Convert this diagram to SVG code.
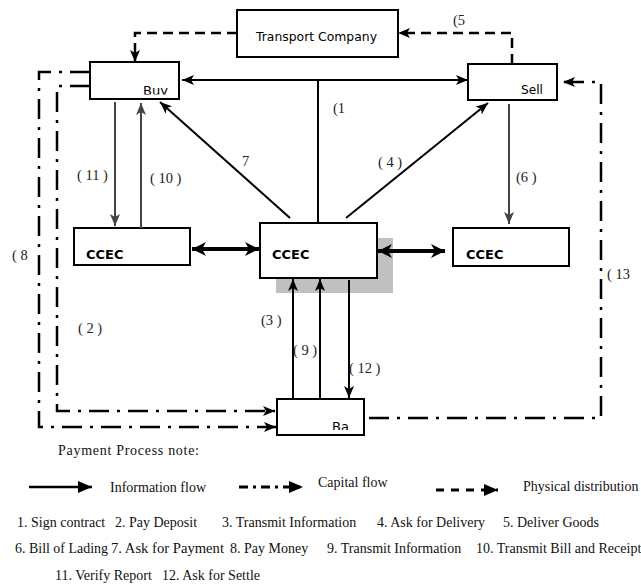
<svg xmlns="http://www.w3.org/2000/svg" width="641" height="585" viewBox="0 0 641 585">
<style>
.box{fill:#fff;stroke:#000;stroke-width:2}
.bt{font-family:"DejaVu Sans","Liberation Sans",sans-serif;font-size:13px;fill:#000}
.bb{font-family:"DejaVu Sans","Liberation Sans",sans-serif;font-size:13px;font-weight:bold;fill:#000}
.lb{font-family:"Liberation Serif","Times New Roman",serif;font-size:14.5px;fill:#222}
.lg{font-family:"Liberation Serif","Times New Roman",serif;font-size:14px;fill:#111}
.sol{fill:none;stroke:#000;stroke-width:2}
.gry{fill:none;stroke:#444;stroke-width:2}
.thk{fill:none;stroke:#000;stroke-width:4}
.dd{fill:none;stroke:#000;stroke-width:2.5;stroke-dasharray:20 8 3 8}
.ds{fill:none;stroke:#000;stroke-width:2.5;stroke-dasharray:10 6}
</style>
<defs>
<marker id="a" viewBox="0 0 12 10" markerWidth="12" markerHeight="10" refX="12" refY="5" orient="auto-start-reverse" markerUnits="userSpaceOnUse"><path d="M0,0 L12,5 L0,10 L3,5 z" fill="#000"/></marker>
<marker id="ag" viewBox="0 0 12 10" markerWidth="12" markerHeight="10" refX="12" refY="5" orient="auto-start-reverse" markerUnits="userSpaceOnUse"><path d="M0,0 L12,5 L0,10 L3,5 z" fill="#444"/></marker>
<marker id="at" viewBox="0 0 14 14" markerWidth="14" markerHeight="14" refX="14" refY="7" orient="auto-start-reverse" markerUnits="userSpaceOnUse"><path d="M0,0 L14,7 L0,14 L4,7 z" fill="#000"/></marker>
<marker id="tri" viewBox="0 0 14 12" markerWidth="14" markerHeight="12" refX="14" refY="6" orient="auto" markerUnits="userSpaceOnUse"><path d="M0,0 L14,6 L0,12 z" fill="#000"/></marker>
<clipPath id="cBuy"><rect x="90" y="62" width="89" height="32.5"/></clipPath>
<clipPath id="cSell"><rect x="468" y="64" width="89" height="30"/></clipPath>
<clipPath id="cBa"><rect x="277" y="399" width="87" height="31"/></clipPath>
</defs>

<g id="transport"><rect class="box" x="237" y="10" width="161" height="47"/><text class="bt" x="256" y="41" font-size="14" textLength="121" lengthAdjust="spacingAndGlyphs">Transport Company</text></g>
<g id="buy"><rect class="box" x="90" y="62" width="89" height="37"/><text class="bt" x="143" y="95" clip-path="url(#cBuy)">Buy</text></g>
<g id="sell"><rect class="box" x="468" y="64" width="89" height="36"/><text class="bt" x="521" y="94" clip-path="url(#cSell)" textLength="22" lengthAdjust="spacingAndGlyphs">Sell</text></g>
<g id="ccec-left"><rect class="box" x="74" y="228" width="116" height="37"/><text class="bb" x="86" y="259">CCEC</text></g>
<g id="ccec-center"><rect x="276" y="238" width="117" height="55" fill="#c0c0c0"/><rect class="box" x="260" y="223" width="117" height="55"/><text class="bb" x="272" y="259">CCEC</text></g>
<g id="ccec-right"><rect class="box" x="453" y="228" width="116" height="38"/><text class="bb" x="466" y="259">CCEC</text></g>
<g id="bank"><rect class="box" x="277" y="399" width="87" height="36"/><text class="bt" x="332" y="431" font-size="12" clip-path="url(#cBa)">Ba</text></g>

<g id="connectors">
<path class="ds" d="M237,33 H135 V62" marker-end="url(#a)"/>
<path class="ds" d="M512,64 V33 H398" marker-end="url(#a)"/>
<path class="sol" d="M182,80 H468" marker-start="url(#a)" marker-end="url(#a)"/>
<path class="sol" d="M318,80 V222"/>
<path class="sol" d="M290,218 L160,102" marker-end="url(#a)"/>
<path class="sol" d="M346,218 L488,103" marker-end="url(#a)"/>
<path class="gry" d="M115,102 V226" marker-end="url(#ag)"/>
<path class="gry" d="M141,228 V103" marker-end="url(#ag)"/>
<path class="gry" d="M509,104 V224" marker-end="url(#ag)"/>
<path class="thk" d="M192,249 H259" marker-start="url(#at)" marker-end="url(#at)"/>
<path class="thk" d="M378,251 H445" marker-start="url(#at)" marker-end="url(#at)"/>
<path class="sol" d="M293,398 V279" marker-end="url(#a)"/>
<path class="sol" d="M320,398 V279" marker-end="url(#a)"/>
<path class="sol" d="M349,280 V398" marker-end="url(#a)"/>
<path class="dd" d="M90,72 H39 V427 H276" marker-end="url(#a)"/>
<path class="dd" d="M90,86 H57 V411 H275" marker-end="url(#a)"/>
<path class="dd" d="M369,418 H601 V82 H563" marker-end="url(#a)"/>
</g>

<g id="labels">
<text class="lb" x="453" y="25">(5</text>
<text class="lb" x="333" y="113">(1</text>
<text class="lb" x="378" y="167">( 4 )</text>
<text class="lb" x="516" y="182">(6 )</text>
<text class="lb" x="242" y="166">7</text>
<text class="lb" x="77" y="180">( 11 )</text>
<text class="lb" x="150" y="183">( 10 )</text>
<text class="lb" x="12" y="260">( 8</text>
<text class="lb" x="78" y="333">( 2 )</text>
<text class="lb" x="261" y="325">(3 )</text>
<text class="lb" x="293" y="355">( 9 )</text>
<text class="lb" x="349" y="373">( 12 )</text>
<text class="lb" x="607" y="279">( 13</text>
</g>

<g id="legend">
<text class="lg" x="58" y="455" textLength="141">Payment Process note:</text>
<path d="M29,487 H92" stroke="#000" stroke-width="2.5" marker-end="url(#tri)"/>
<text class="lg" x="110" y="492">Information flow</text>
<path d="M239,487 H303" stroke="#000" stroke-width="3" stroke-dasharray="9 5 3 5" marker-end="url(#tri)"/>
<text class="lg" x="318" y="487">Capital flow</text>
<path d="M436,490 H498" stroke="#000" stroke-width="3" stroke-dasharray="8 7" marker-end="url(#tri)"/>
<text class="lg" x="523" y="491">Physical distribution</text>
<text class="lg" x="17" y="527">1. Sign contract</text>
<text class="lg" x="115" y="527">2. Pay Deposit</text>
<text class="lg" x="222" y="527">3. Transmit Information</text>
<text class="lg" x="377" y="527">4. Ask for Delivery</text>
<text class="lg" x="503" y="527">5. Deliver Goods</text>
<text class="lg" x="15" y="553" textLength="93" lengthAdjust="spacingAndGlyphs">6. Bill of Lading</text>
<text class="lg" x="111" y="553" textLength="113" lengthAdjust="spacingAndGlyphs">7. Ask for Payment</text>
<text class="lg" x="230" y="553">8. Pay Money</text>
<text class="lg" x="327" y="553">9. Transmit Information</text>
<text class="lg" x="476" y="553">10. Transmit Bill and Receipt</text>
<text class="lg" x="55" y="580">11. Verify Report</text>
<text class="lg" x="162" y="580">12. Ask for Settle</text>
</g>
</svg>
